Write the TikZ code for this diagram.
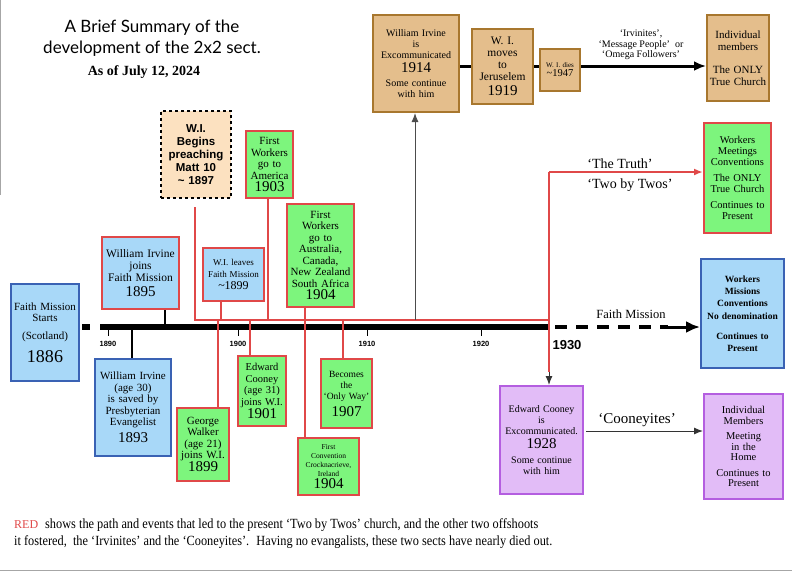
\documentclass[tikz,border=0pt]{standalone}
\usepackage{fontspec}
\setmainfont{Liberation Serif}
\newfontfamily\titlefont{Lato}
\newfontfamily\hfont{Liberation Sans}
\usetikzlibrary{arrows.meta}
\definecolor{bfill}{HTML}{A8D8F8}
\definecolor{bdraw}{HTML}{3A62B4}
\definecolor{gfill}{HTML}{7DF57D}
\definecolor{rdraw}{HTML}{E04848}
\definecolor{tfill}{HTML}{E4BE8C}
\definecolor{tdraw}{HTML}{A8772E}
\definecolor{pfill}{HTML}{E2BCF7}
\definecolor{pdraw}{HTML}{B45EE0}
\definecolor{peach}{HTML}{FCE1C0}
\tikzset{
 bx/.style={anchor=north west,inner sep=0pt,align=center,line width=2pt,font=\fontsize{11}{11.5}\selectfont},
 blueb/.style={bx,fill=bfill,draw=bdraw},
 bluer/.style={bx,fill=bfill,draw=rdraw},
 greenr/.style={bx,fill=gfill,draw=rdraw},
 tanb/.style={bx,fill=tfill,draw=tdraw},
 purb/.style={bx,fill=pfill,draw=pdraw},
 redl/.style={draw=rdraw,line width=2pt},
 blk/.style={draw=black,line width=2.5pt},
 tick/.style={font=\hfont\bfseries\fontsize{7.5}{8}\selectfont},
}
\newcommand{\yy}[1]{{\fontsize{15}{17}\selectfont #1}}
\begin{document}
\begin{tikzpicture}[x=1pt,y=-1pt]
\useasboundingbox (0,0) rectangle (792,574);
\draw[gray!70,line width=1pt] (0.5,0) -- (0.5,195);
\draw[gray!70,line width=1pt] (0,570) -- (792,570);
% title
\node[font=\titlefont\fontsize{17}{21}\selectfont,align=center] (title) at (152,38) {A Brief Summary of the\\development of the 2x2 sect.};
\node[font=\bfseries\fontsize{14}{15}\selectfont] (date) at (144,72) {As of July 12, 2024};
% timeline
\coordinate (tlA) at (100,327);
\coordinate (tlB) at (549,327);
\draw[line width=6pt] (tlA) -- (tlB);
\draw[line width=6pt] (82,327) -- (90,327);
\foreach \x/\l in {108/1890,238/1900,367/1910,481/1920}{
 \draw[line width=0.8pt] (\x,330) -- (\x,336);
 \node[tick] at (\x,344) {\l};
}
\node[font=\hfont\bfseries\fontsize{13}{14}\selectfont] (y1930) at (567,345) {1930};
% red path
\coordinate (r0) at (195,207);
\coordinate (r1) at (195,320);
\coordinate (r2) at (549,320);
\coordinate (r3) at (549,172);
\draw[redl] (r0) -- (r1) -- (r2);
\draw[redl] (r2) -- (r3);
% boxes
\node[blueb,minimum width=68,minimum height=97,text width=66] (fms) at (10,283) {Faith Mission\\Starts\\[6pt](Scotland)\\[8pt]{\fontsize{18}{18}\selectfont 1886}};
\node[bluer,minimum width=77,minimum height=72,text width=75,font=\fontsize{11.5}{12}\selectfont] (wij) at (101,236) {William Irvine\\joins\\Faith Mission\\[3pt]\yy{1895}};
\node[blueb,minimum width=76,minimum height=97,text width=74] (wis) at (94,358) {William Irvine\\(age 30)\\is saved by\\Presbyterian\\Evangelist\\[4pt]\yy{1893}};
\node[bx,fill=peach,draw=black,dashed,line width=2pt,minimum width=70,minimum height=87,text width=68,font=\hfont\bfseries\fontsize{11.5}{13}\selectfont] (wib) at (160,110) {W.I.\\Begins\\preaching\\Matt 10\\\textasciitilde{} 1897};
\node[bluer,minimum width=61,minimum height=53,text width=60,font=\fontsize{9}{12}\selectfont] (wil) at (202,247) {W.I. leaves\\Faith Mission\\{\fontsize{12}{12}\selectfont\textasciitilde1899}};
\node[greenr,minimum width=47,minimum height=67,text width=46] (fwa) at (245,130) {First\\Workers\\go to\\America\\[1pt]\yy{1903}};
\node[greenr,minimum width=67,minimum height=103,text width=66] (fwb) at (286,203) {First\\Workers\\go to\\Australia,\\Canada,\\New Zealand\\South Africa\\[1pt]\yy{1904}};
\node[greenr,minimum width=52,minimum height=73,text width=51] (gw) at (176,407) {George\\Walker\\(age 21)\\joins W.I.\\\yy{1899}};
\node[greenr,minimum width=48,minimum height=70,text width=48,font=\fontsize{10.5}{11.5}\selectfont] (ec) at (237,355) {Edward\\Cooney\\(age 31)\\joins W.I.\\\yy{1901}};
\node[greenr,minimum width=51,minimum height=69,text width=50,font=\fontsize{9.5}{11}\selectfont] (ow) at (320,358) {Becomes\\the\\`Only Way'\\[4pt]\yy{1907}};
\node[greenr,minimum width=61,minimum height=57,text width=60,font=\fontsize{7.5}{9}\selectfont] (fc) at (297,437) {First\\Convention\\Crocknacrieve,\\Ireland\\[1pt]\yy{1904}};
\node[tanb,minimum width=86,minimum height=97,text width=84,font=\fontsize{10}{11}\selectfont] (wie) at (372,14) {William Irvine\\is\\Excommunicated\\[3pt]\yy{1914}\\[3pt]Some continue\\with him};
\node[tanb,minimum width=61,minimum height=75,text width=60,font=\fontsize{11.5}{12}\selectfont] (wim) at (471,28) {W. I.\\moves\\to\\Jeruselem\\[3pt]\yy{1919}};
\node[tanb,minimum width=40,minimum height=42,text width=40,font=\fontsize{7}{9}\selectfont] (wid) at (539,48) {W. I. dies\\{\fontsize{10.5}{11}\selectfont\textasciitilde1947}};
\node[tanb,minimum width=62,minimum height=86,text width=62] (im) at (706,14) {Individual\\members\\[12pt]The ONLY\\True Church};
\node[greenr,minimum width=67,minimum height=110,text width=66,font=\fontsize{10.5}{11}\selectfont] (tt) at (703,122) {Workers\\Meetings\\Conventions\\[5pt]The ONLY\\True Church\\[5pt]Continues to\\Present};
\node[blueb,minimum width=83,minimum height=109,text width=82,font=\bfseries\fontsize{9.5}{12}\selectfont] (fmr) at (700,258) {Workers\\Missions\\Conventions\\[1pt]No denomination\\[8pt]Continues to\\Present};
\node[purb,minimum width=83,minimum height=108,text width=82,font=\fontsize{10}{11}\selectfont] (ecx) at (499,385) {Edward Cooney\\is\\Excommunicated.\\[3pt]\yy{1928}\\[4pt]Some continue\\with him};
\node[purb,minimum width=79,minimum height=105,text width=78,font=\fontsize{10.5}{10.5}\selectfont] (cm) at (703,393) {Individual\\Members\\[5pt]Meeting\\in the\\Home\\[5pt]Continues to\\Present};
% connectors
\draw[blk] (wij.south -| 165,0) -- (165,327);
\draw[blk] (132,327) -- (wis.north -| 132,0);
\draw[redl] (221,320) -- (wil.south -| 221,0);
\draw[redl] (218,320) -- (gw.north -| 218,0);
\draw[redl] (250,320) -- (ec.north -| 250,0);
\draw[redl] (268,320) -- (fwa.south -| 268,0);
\draw[redl] (fwb.south -| 305,0) -- (fc.north -| 305,0);
\draw[redl] (343,320) -- (ow.north -| 343,0);
\draw[-{Latex[length=9pt,width=7pt]},gray!60!black,line width=1pt] (415,320) -- (wie.south -| 415,0);
\draw[redl,-{Latex[length=9pt,width=7pt]}] (r3) -- (tt.west |- r3);
\draw[redl] (r2) -- (549,372);
\draw[-{Latex[length=9pt,width=7pt]},black!80,line width=1pt] (549,372) -- (ecx.north -| 549,0);
\draw[line width=3pt] (wie.east |- 0,66) -- (wim.west |- 0,66);
\draw[line width=3pt] (wim.east |- 0,66) -- (wid.west |- 0,66);
\draw[line width=3pt,-{Latex[length=12pt,width=10pt]}] (wid.east |- 0,66) -- (im.west |- 0,66);
\node[font=\fontsize{10}{10.5}\selectfont,align=center] (irl) at (641,45) {`Irvinites',\\`Message People'~ or\\`Omega Followers'};
\draw[line width=4pt,dash pattern=on 12pt off 9pt] (555,327) -- (668,327);
\draw[line width=3pt,-{Latex[length=14pt,width=12pt]}] (668,327) -- (fmr.west |- 0,327);
\node[font=\fontsize{12.5}{13}\selectfont] (fml) at (631,314) {Faith Mission};
\node[font=\fontsize{14}{15}\selectfont] (ttl) at (620,164) {`The Truth'};
\node[font=\fontsize{14}{15}\selectfont] (tbt) at (630,185) {`Two by Twos'};
\draw[line width=1pt,black!80,-{Latex[length=9pt,width=7pt]}] (586,431) -- (cm.west |- 0,431);
\node[font=\fontsize{15}{16}\selectfont] (coo) at (637,420) {`Cooneyites'};
% footnote
\node[anchor=north west,align=left,font=\fontsize{14}{17}\selectfont,inner sep=0pt] (foot) at (14,518) {\textcolor{rdraw}{\fontsize{12}{12}\selectfont RED}~ \scalebox{0.88}[1]{shows the path and events that led to the present `Two by Twos' church, and the other two offshoots}\\\scalebox{0.88}[1]{it fostered,~ the `Irvinites' and the `Cooneyites'.~ Having no evangalists, these two sects have nearly died out.}};
\end{tikzpicture}
\end{document}
